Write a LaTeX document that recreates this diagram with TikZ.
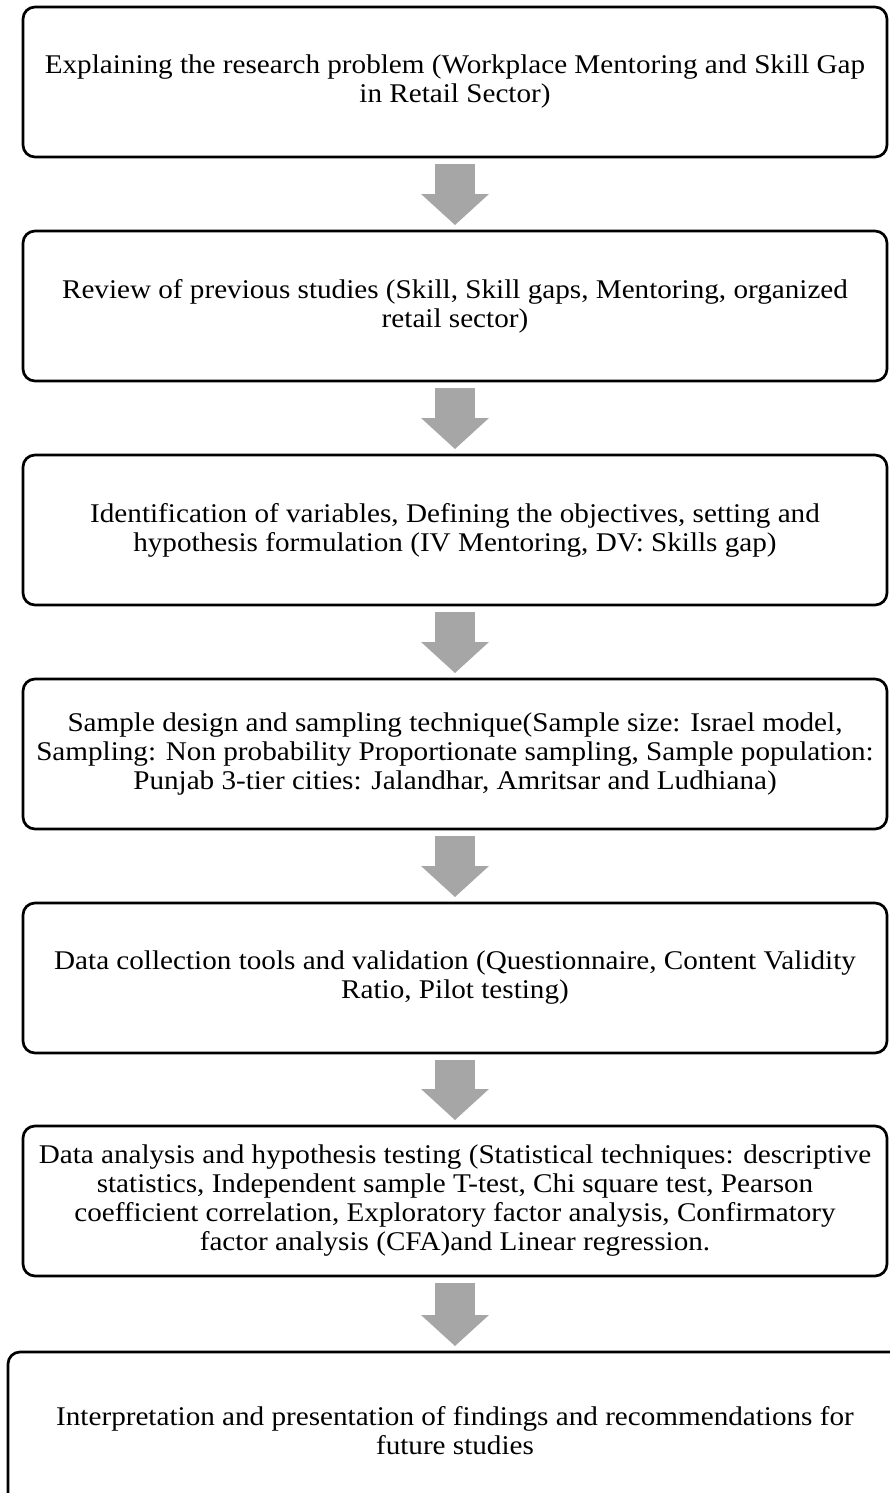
\documentclass[tikz,border=0pt]{standalone}
\usepackage{fontspec}
\setmainfont[FakeStretch=1.08]{Liberation Serif}
\usetikzlibrary{arrows.meta}
\definecolor{arrowgray}{HTML}{A6A6A6}
\tikzset{
  stepbox/.style={draw=black, line width=2.7pt, rounded corners=12pt, fill=white,
    minimum width=864pt, minimum height=150pt, inner sep=0pt, align=center,
    font=\fontsize{27pt}{29pt}\selectfont},
  flowarrow/.style={draw=arrowgray, line width=40pt,
    -{Triangle[width=66pt,length=31pt]}, shorten <=5.6pt, shorten >=4.6pt}
}
\begin{document}
\begin{tikzpicture}[x=1pt,y=-1pt]
\useasboundingbox (0,0) rectangle (890,1493);
\clip (0,0) rectangle (890,1493);
\fill[white] (0,0) rectangle (890,1493);
\node[stepbox] (b1) at (455,82) {Explaining the research problem (Workplace Mentoring and Skill Gap\\in Retail Sector)};
\node[stepbox] (b2) at (455,306) {Review of previous studies (Skill, Skill gaps, Mentoring, organized\\retail sector)};
\node[stepbox] (b3) at (455,530) {Identification of variables, Defining the objectives, setting and\\hypothesis formulation (IV Mentoring, DV: Skills gap)};
\node[stepbox] (b4) at (455,754) {Sample design and sampling technique(Sample size: Israel model,\\Sampling: Non probability Proportionate sampling, Sample population:\\Punjab 3-tier cities: Jalandhar, Amritsar and Ludhiana)};
\node[stepbox] (b5) at (455,978) {Data collection tools and validation (Questionnaire, Content Validity\\Ratio, Pilot testing)};
\node[stepbox] (b6) at (455,1201) {Data analysis and hypothesis testing (Statistical techniques: descriptive\\statistics, Independent sample T-test, Chi square test, Pearson\\coefficient correlation, Exploratory factor analysis, Confirmatory\\factor analysis (CFA)and Linear regression.};
\node[stepbox, minimum width=894pt, minimum height=158pt] (b7) at (455,1431) {Interpretation and presentation of findings and recommendations for\\future studies};
\draw[flowarrow] (b1.south) -- (b2.north);
\draw[flowarrow] (b2.south) -- (b3.north);
\draw[flowarrow] (b3.south) -- (b4.north);
\draw[flowarrow] (b4.south) -- (b5.north);
\draw[flowarrow] (b5.south) -- (b6.north);
\draw[flowarrow] (b6.south) -- (b7.north);
\end{tikzpicture}
\end{document}
